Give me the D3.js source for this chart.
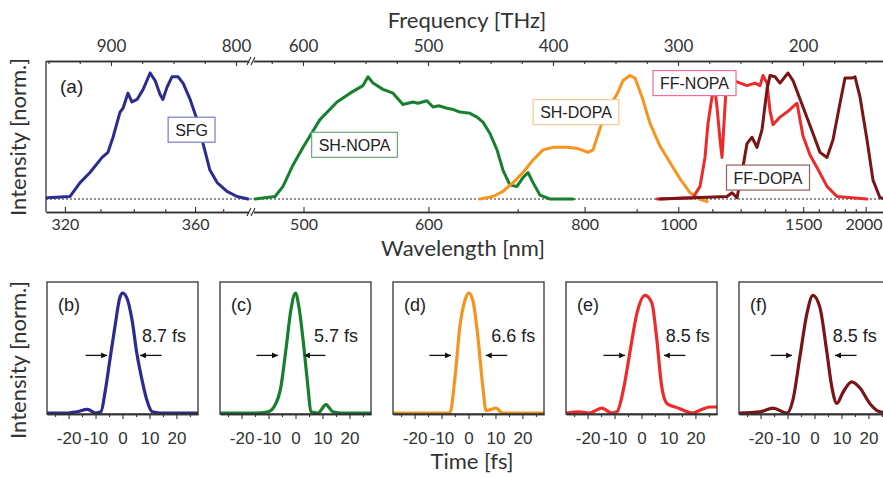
<!DOCTYPE html>
<html>
<head>
<meta charset="utf-8">
<script src="https://cdn.jsdelivr.net/npm/d3@7"></script>
<style>
body{margin:0;background:#fff}
svg{display:block}
</style>
</head>
<body>
<svg id="chart" width="883" height="478"></svg>
<script>
// speed of light in nm*THz, wavelength <-> frequency
const C_LIGHT = 299792.458;

// ---- spectra: wavelength [nm] / normalized intensity ----
const sfgWl = [315.2,321.4,324.2,327.0,330.5,332.2,333.7,335.8,336.7,338.2,339.4,341.0,342.9,345.1,346.7,348.3,349.2,350.6,352.2,354.2,355.9,358.3,360.7,362.8,365.2,367.8,371.4,375.1,379.3];
const sfgI  = [0.01,0.02,0.13,0.21,0.33,0.37,0.49,0.69,0.72,0.84,0.77,0.79,0.87,1.0,0.94,0.83,0.79,0.89,0.97,0.97,0.92,0.79,0.63,0.44,0.23,0.13,0.06,0.02,0.0];

const shNopaWl = [469.6,481.7,486.7,493.1,499.7,511.2,523.4,533.1,543.1,547.1,551.1,559.3,567.8,576.5,585.5,590,598.6,604.4,610,618.4,625,631.9,642.8,650.6,657.4,665.6,674.0,681.3,690.1,699.1,707.0,713.8,720.7,730.5,745.0,780.7];
const shNopaI  = [0,0.02,0.10,0.27,0.41,0.63,0.77,0.84,0.90,0.97,0.92,0.87,0.84,0.75,0.77,0.76,0.78,0.73,0.74,0.72,0.71,0.69,0.68,0.65,0.61,0.52,0.39,0.23,0.11,0.10,0.17,0.21,0.13,0.03,0,0];

const shDopaWl = [654.0,669.2,681.3,694.0,707.1,720.7,734.8,749.5,771.1,788.9,805.9,814.7,827.2,840.2,859.5,871.5,885.9,896.5,911.8,929.9,953.5,978.4,1004.7,1032.3,1060,1083.1];
const shDopaI  = [0,0.02,0.06,0.13,0.21,0.31,0.39,0.41,0.41,0.40,0.37,0.39,0.56,0.71,0.83,0.94,0.98,0.96,0.81,0.60,0.42,0.29,0.16,0.05,0.0,-0.02];

const ffNopaWl = [946.3,1040.9,1061.6,1076.8,1086.2,1098.9,1108.7,1115.3,1125.4,1132.2,1139.0,1146.0,1153.0,1185.9,1224.6,1257.5,1279.0,1292.2,1310.3,1324.2,1338.4,1372.7,1408.8,1463.8,1499.0,1542.1,1587.8,1658.1,1734.9,2014.7];
const ffNopaI  = [0,0.01,0.10,0.33,0.60,0.81,0.86,0.73,0.47,0.33,0.60,0.87,0.94,0.93,0.90,0.92,0.90,0.98,0.92,0.70,0.59,0.65,0.69,0.76,0.50,0.35,0.25,0.10,0.02,0];

const ffDopaWl = [953.5,1149.5,1167.4,1185.9,1205.0,1224.6,1245.0,1266.0,1287.8,1310.3,1324.2,1348.0,1372.7,1398.3,1414.1,1441.3,1499.0,1561.4,1608.3,1658.1,1703.4,1759.3,1801.6,1864.4,1892.6,1941.7,2014.7,2081.9,2166.1,2244.0];
const ffDopaI  = [0,0.02,0.05,0.01,0.21,0.44,0.49,0.41,0.55,0.87,0.98,0.97,0.92,0.97,1.0,0.94,0.73,0.52,0.37,0.33,0.47,0.76,0.96,0.96,0.97,0.81,0.47,0.15,0.01,0];

const specNames  = ["SFG","SH-NOPA","SH-DOPA","FF-NOPA","FF-DOPA"];
const specColors = ["#2d2b8f","#17802e","#f7941d","#ee2a2a","#7a1416"];
const boxColors  = ["#7b7bc6","#6aa87c","#f8c690","#ec6f90","#9a5c5c"];
// label box anchors (wavelength, intensity)
const boxWl  = [358.8, 536.5, 785.6, 1045.3, 1314.9];
const boxInt = [0.55, 0.43, 0.69, 0.92, 0.17];

// ---- axis ticks ----
const freqMajorL = [900, 800];
const freqMajorR = [600, 500, 400, 300, 200];
const wlMajorL = [320, 360];
const wlMajorR = [500, 600, 800, 1000, 1500, 2000];
const timeMajor = [-20, -10, 0, 10, 20];
const timeMinor = [-25, -15, -5, 5, 15, 25];

// ---- pulses: time [fs] / normalized intensity ----
const pulseBT = [-28,-20,-17,-13,-10,-8,-6.5,-4.7,-2.8,-1,0,1.6,3.5,5.3,7.2,9,11,14,20,28];
const pulseBI = [0,0,0.01,0.03,0,0.01,0.17,0.44,0.72,0.96,1.0,0.96,0.78,0.5,0.28,0.11,0.01,0,0,0];
const pulseCT = [-28,-15,-10.2,-8,-5.4,-3.6,-1.7,0,1.3,3.1,4.6,5.7,8.3,11.3,13.8,16.8,28];
const pulseCI = [0,0,0.01,0.05,0.22,0.52,0.86,1,0.88,0.55,0.22,0.01,0,0.07,0.01,0,0];
const pulseDT = [-28,-15,-6.9,-5.0,-3.2,-1.3,0.1,1.6,3.5,5.3,6.5,10.2,12.7,28];
const pulseDI = [0,0,0,0.3,0.72,0.94,1,0.94,0.63,0.22,0.02,0.04,0,0];
const pulseET = [-28,-23.2,-19.5,-14.7,-11,-9.1,-6.5,-4.2,-1.7,1.3,3.8,5.6,7.5,9.4,13.8,18.7,22.4,25.3,28];
const pulseEI = [0,0.01,0,0.04,0,0.01,0.22,0.52,0.83,0.98,0.92,0.63,0.22,0.08,0.04,0,0.03,0.05,0.05];
const pulseFT = [-28,-20.2,-15.4,-10.2,-8,-5.4,-2.8,-0.6,2,4.5,6.4,8.3,10.5,13.8,16.8,20.5,24.2,28];
const pulseFI = [0,0.01,0.04,0,0.11,0.47,0.83,0.98,0.88,0.52,0.22,0.08,0.17,0.26,0.21,0.08,0.01,0];

const pulseLetters = ["(b)","(c)","(d)","(e)","(f)"];
const fwhm = [8.7, 5.7, 6.6, 8.5, 8.5];
const arrowTipL = [-5.7, -6.5, -6.5, -6.1, -8.3];
const arrowTipR = [6.5, 3.1, 6.4, 8.3, 7.6];
const fwhmTextT = [7.2, 6.9, 8.4, 9.0, 6.8];

const ARIAL = "'Liberation Sans', Arial, sans-serif";
const CALI = "Lato, 'Open Sans', sans-serif";
const INK = "#333";
const W = 883;

const svg = d3.select("#chart");
svg.append("rect").attr("width", W).attr("height", 478).attr("fill", "#fff");

svg.append("defs").append("marker")
  .attr("id", "ah").attr("viewBox", "0 0 10 10")
  .attr("refX", 10).attr("refY", 5)
  .attr("markerWidth", 7).attr("markerHeight", 6)
  .attr("markerUnits", "userSpaceOnUse").attr("orient", "auto")
  .append("path").attr("d", "M0,0L10,5L0,10z").attr("fill", "#111");

// ================= top panel (a) =================
const top0 = 61, bot0 = 212;
const xL = d3.scaleLinear().domain([952, 787.2]).range([46, 252]);   // THz, left of break
const xR = d3.scaleLinear().domain([640.8, 130.4]).range([252, 890]); // THz, right of break
const toTHz = wl => C_LIGHT / wl;
const xWl = wl => { const f = toTHz(wl); return f > 714 ? xL(f) : xR(f); };
const yT = d3.scaleLinear().domain([0, 1]).range([199, 73]);

function styleAxis(g, font, size) {
  g.attr("font-family", font).attr("font-size", size).attr("color", INK);
  g.selectAll(".domain").attr("stroke-width", 1.3);
  g.selectAll(".tick line").attr("stroke-width", 1.1);
  g.selectAll("text").attr("fill", INK);
}

// keep tick labels inside the picture
function keepInside(g, sc) {
  g.selectAll(".tick text").each(function(d) {
    const w = this.getComputedTextLength();
    const over = sc(d) + w / 2 - (W - 1);
    if (over > 0) d3.select(this).attr("dx", -over);
  });
}

const gTop = svg.append("g").attr("transform", `translate(0,${top0})`);
[[xL, freqMajorL, d3.range(825, 951, 25).filter(f => f % 100)],
 [xR, freqMajorR, d3.range(150, 650, 25).filter(f => f % 100)]].forEach(([sc, maj, mnr]) => {
  gTop.append("g").call(d3.axisTop(sc).tickValues(maj).tickSizeInner(-5).tickSizeOuter(0).tickPadding(9))
    .call(g => styleAxis(g, CALI, 17));
  gTop.append("g").call(d3.axisTop(sc).tickValues(mnr).tickSizeInner(-3).tickSizeOuter(0).tickFormat(""))
    .call(g => styleAxis(g, CALI, 17));
});

const gBot = svg.append("g").attr("transform", `translate(0,${bot0})`);
[[xL, wlMajorL, [330, 340, 350, 370]],
 [xR, wlMajorR, d3.range(700, 2000, 100).filter(w => !wlMajorR.includes(w))]].forEach(([sc, maj, mnr]) => {
  gBot.append("g").call(d3.axisBottom(sc).tickValues(maj.map(toTHz)).tickSizeInner(-5).tickSizeOuter(0)
      .tickPadding(7).tickFormat(f => Math.round(C_LIGHT / f)))
    .call(g => styleAxis(g, CALI, 16))
    .call(g => keepInside(g, sc));
  gBot.append("g").call(d3.axisBottom(sc).tickValues(mnr.map(toTHz)).tickSizeInner(-3).tickSizeOuter(0).tickFormat(""))
    .call(g => styleAxis(g, CALI, 16));
});

// left frame edge
svg.append("line").attr("x1", 46).attr("x2", 46).attr("y1", top0).attr("y2", bot0)
  .attr("stroke", INK).attr("stroke-width", 1.3);

// axis break marks
const xb = xL.range()[1];
[top0, bot0].forEach(y => {
  svg.append("rect").attr("x", xb - 3).attr("y", y - 1.5).attr("width", 5).attr("height", 3).attr("fill", "#fff");
  svg.append("path")
    .attr("d", `M${xb - 5},${y + 4}L${xb - 1},${y - 4}M${xb - 1},${y + 4}L${xb + 3},${y - 4}`)
    .attr("stroke", INK).attr("stroke-width", 1.1).attr("fill", "none");
});

// dotted zero line
svg.append("line").attr("x1", 46).attr("x2", 890).attr("y1", yT(0)).attr("y2", yT(0))
  .attr("stroke", "#222").attr("stroke-width", 1).attr("stroke-dasharray", "2,2");

const spectra = [[sfgWl, sfgI], [shNopaWl, shNopaI], [shDopaWl, shDopaI], [ffNopaWl, ffNopaI], [ffDopaWl, ffDopaI]];
const specLine = d3.line().x(d => xWl(d[0])).y(d => yT(d[1]));
spectra.forEach(([wl, it], i) => {
  svg.append("path").datum(d3.zip(wl, it))
    .attr("d", specLine).attr("fill", "none")
    .attr("stroke", specColors[i]).attr("stroke-width", 3)
    .attr("stroke-linejoin", "round").attr("stroke-linecap", "round");
});

// name boxes
specNames.forEach((name, i) => {
  const cx = xWl(boxWl[i]), cy = yT(boxInt[i]);
  const g = svg.append("g");
  const r = g.append("rect");
  const t = g.append("text").attr("x", cx).attr("y", cy + 6).attr("text-anchor", "middle")
    .attr("font-family", ARIAL).attr("font-size", 16).attr("fill", "#222").text(name);
  const w = t.node().getComputedTextLength() + 14;
  r.attr("x", cx - w / 2).attr("y", cy - 12.5).attr("width", w).attr("height", 25)
    .attr("fill", "#fff").attr("stroke", boxColors[i]).attr("stroke-width", 1.2);
});

svg.append("text").attr("x", 60).attr("y", 93).attr("font-family", ARIAL).attr("font-size", 19)
  .attr("fill", "#222").text("(a)");

svg.append("text").attr("x", 467).attr("y", 28).attr("text-anchor", "middle")
  .attr("font-family", CALI).attr("font-size", 22).attr("fill", INK).text("Frequency [THz]");
svg.append("text").attr("x", 463).attr("y", 256).attr("text-anchor", "middle")
  .attr("font-family", CALI).attr("font-size", 22).attr("fill", INK).text("Wavelength [nm]");

// y titles
[137, 360].forEach(cy => {
  svg.append("text").attr("transform", `translate(26,${cy}) rotate(-90)`).attr("text-anchor", "middle")
    .attr("font-family", CALI).attr("font-size", 22).attr("fill", INK).text("Intensity [norm.]");
});

// ================= bottom panels (b)-(f) =================
const pulses = [[pulseBT, pulseBI], [pulseCT, pulseCI], [pulseDT, pulseDI], [pulseET, pulseEI], [pulseFT, pulseFI]];
const pW = 151, pTop = 282, pBot = 414;
const xT = d3.scaleLinear().domain([-28, 28]).range([0, pW]);
const yB = d3.scaleLinear().domain([0, 1]).range([413, 293]);
const pulseLine = d3.line().x(d => xT(d[0])).y(d => yB(d[1])).curve(d3.curveMonotoneX);

pulses.forEach(([tt, ii], i) => {
  const g = svg.append("g").attr("transform", `translate(${47 + i * 173},0)`);
  g.append("path").datum(d3.zip(tt, ii)).attr("d", pulseLine).attr("fill", "none")
    .attr("stroke", specColors[i]).attr("stroke-width", 3.2).attr("stroke-linejoin", "round");
  g.append("rect").attr("x", 0).attr("y", pTop).attr("width", pW).attr("height", pBot - pTop)
    .attr("fill", "none").attr("stroke", INK).attr("stroke-width", 1.3);
  g.append("g").attr("transform", `translate(0,${pBot})`)
    .call(d3.axisBottom(xT).tickValues(timeMajor).tickSizeInner(5).tickSizeOuter(0).tickPadding(13).tickFormat(d => String(d)))
    .call(a => styleAxis(a, ARIAL, 17));
  g.append("g").attr("transform", `translate(0,${pBot})`)
    .call(d3.axisBottom(xT).tickValues(timeMinor).tickSizeInner(3).tickSizeOuter(0).tickFormat(""))
    .call(a => styleAxis(a, ARIAL, 17));

  g.append("text").attr("x", 11).attr("y", 311).attr("font-family", ARIAL).attr("font-size", 18)
    .attr("fill", "#222").text(pulseLetters[i]);
  g.append("text").attr("x", xT(fwhmTextT[i])).attr("y", 342).attr("font-family", ARIAL).attr("font-size", 18)
    .attr("fill", "#222").text(d3.format(".1f")(fwhm[i]) + " fs");

  const ya = yB(0.48);
  [[arrowTipL[i] - 8, arrowTipL[i]], [arrowTipR[i] + 8, arrowTipR[i]]].forEach(([a, b]) => {
    g.append("line").attr("x1", xT(a)).attr("x2", xT(b)).attr("y1", ya).attr("y2", ya)
      .attr("stroke", "#111").attr("stroke-width", 1.3).attr("marker-end", "url(#ah)");
  });
});

svg.append("text").attr("x", 472).attr("y", 469).attr("text-anchor", "middle")
  .attr("font-family", CALI).attr("font-size", 22).attr("fill", INK).text("Time [fs]");
</script>
</body>
</html>
